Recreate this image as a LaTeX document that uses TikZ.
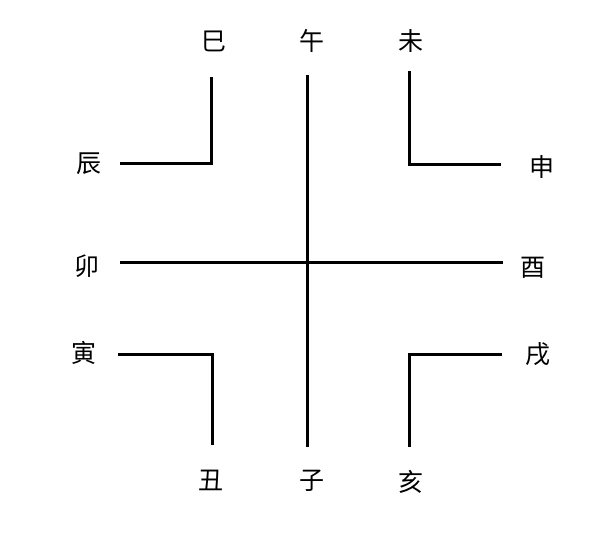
\documentclass[tikz,border=0pt]{standalone}
\usepackage{fontspec}
\newfontfamily\cjk{Noto Sans CJK SC}
\usetikzlibrary{positioning}

\tikzset{
  branch/.style={font=\cjk\fontsize{25}{25}\selectfont,inner sep=0pt,anchor=center},
  bar/.style={color=black,line width=3pt,line cap=butt,line join=miter}
}

\begin{document}
\begin{tikzpicture}[x=1pt,y=-1pt]
\useasboundingbox (0,0) rectangle (592,548);

% labels, top row
\node[branch] (si)   at (214,41) {巳};
\node[branch] (wu)   at (312,41) {午};
\node[branch] (wei)  at (411,41) {未};
% labels, left and right
\node[branch] (chen) at (89,164)  {辰};
\node[branch] (shen) at (542,167) {申};
\node[branch] (mao)  at (87,266)  {卯};
\node[branch] (you)  at (533,268) {酉};
\node[branch] (yin)  at (84,353)  {寅};
\node[branch] (xu)   at (538,354) {戌};
% labels, bottom row
\node[branch] (chou) at (211,480) {丑};
\node[branch] (zi)   at (312,481) {子};
\node[branch] (hai)  at (411,482) {亥};

% the cross
\draw[bar] (307,75) -- (307,447);
\draw[bar] (120,263) -- (503,263);

% the four corners
\draw[bar] (120,164) -- (211,164) -- (211,77);
\draw[bar] (409,71) -- (409,165) -- (501,165);
\draw[bar] (118,354) -- (212,354) -- (212,445);
\draw[bar] (502,354) -- (409,354) -- (409,447);

\end{tikzpicture}
\end{document}
